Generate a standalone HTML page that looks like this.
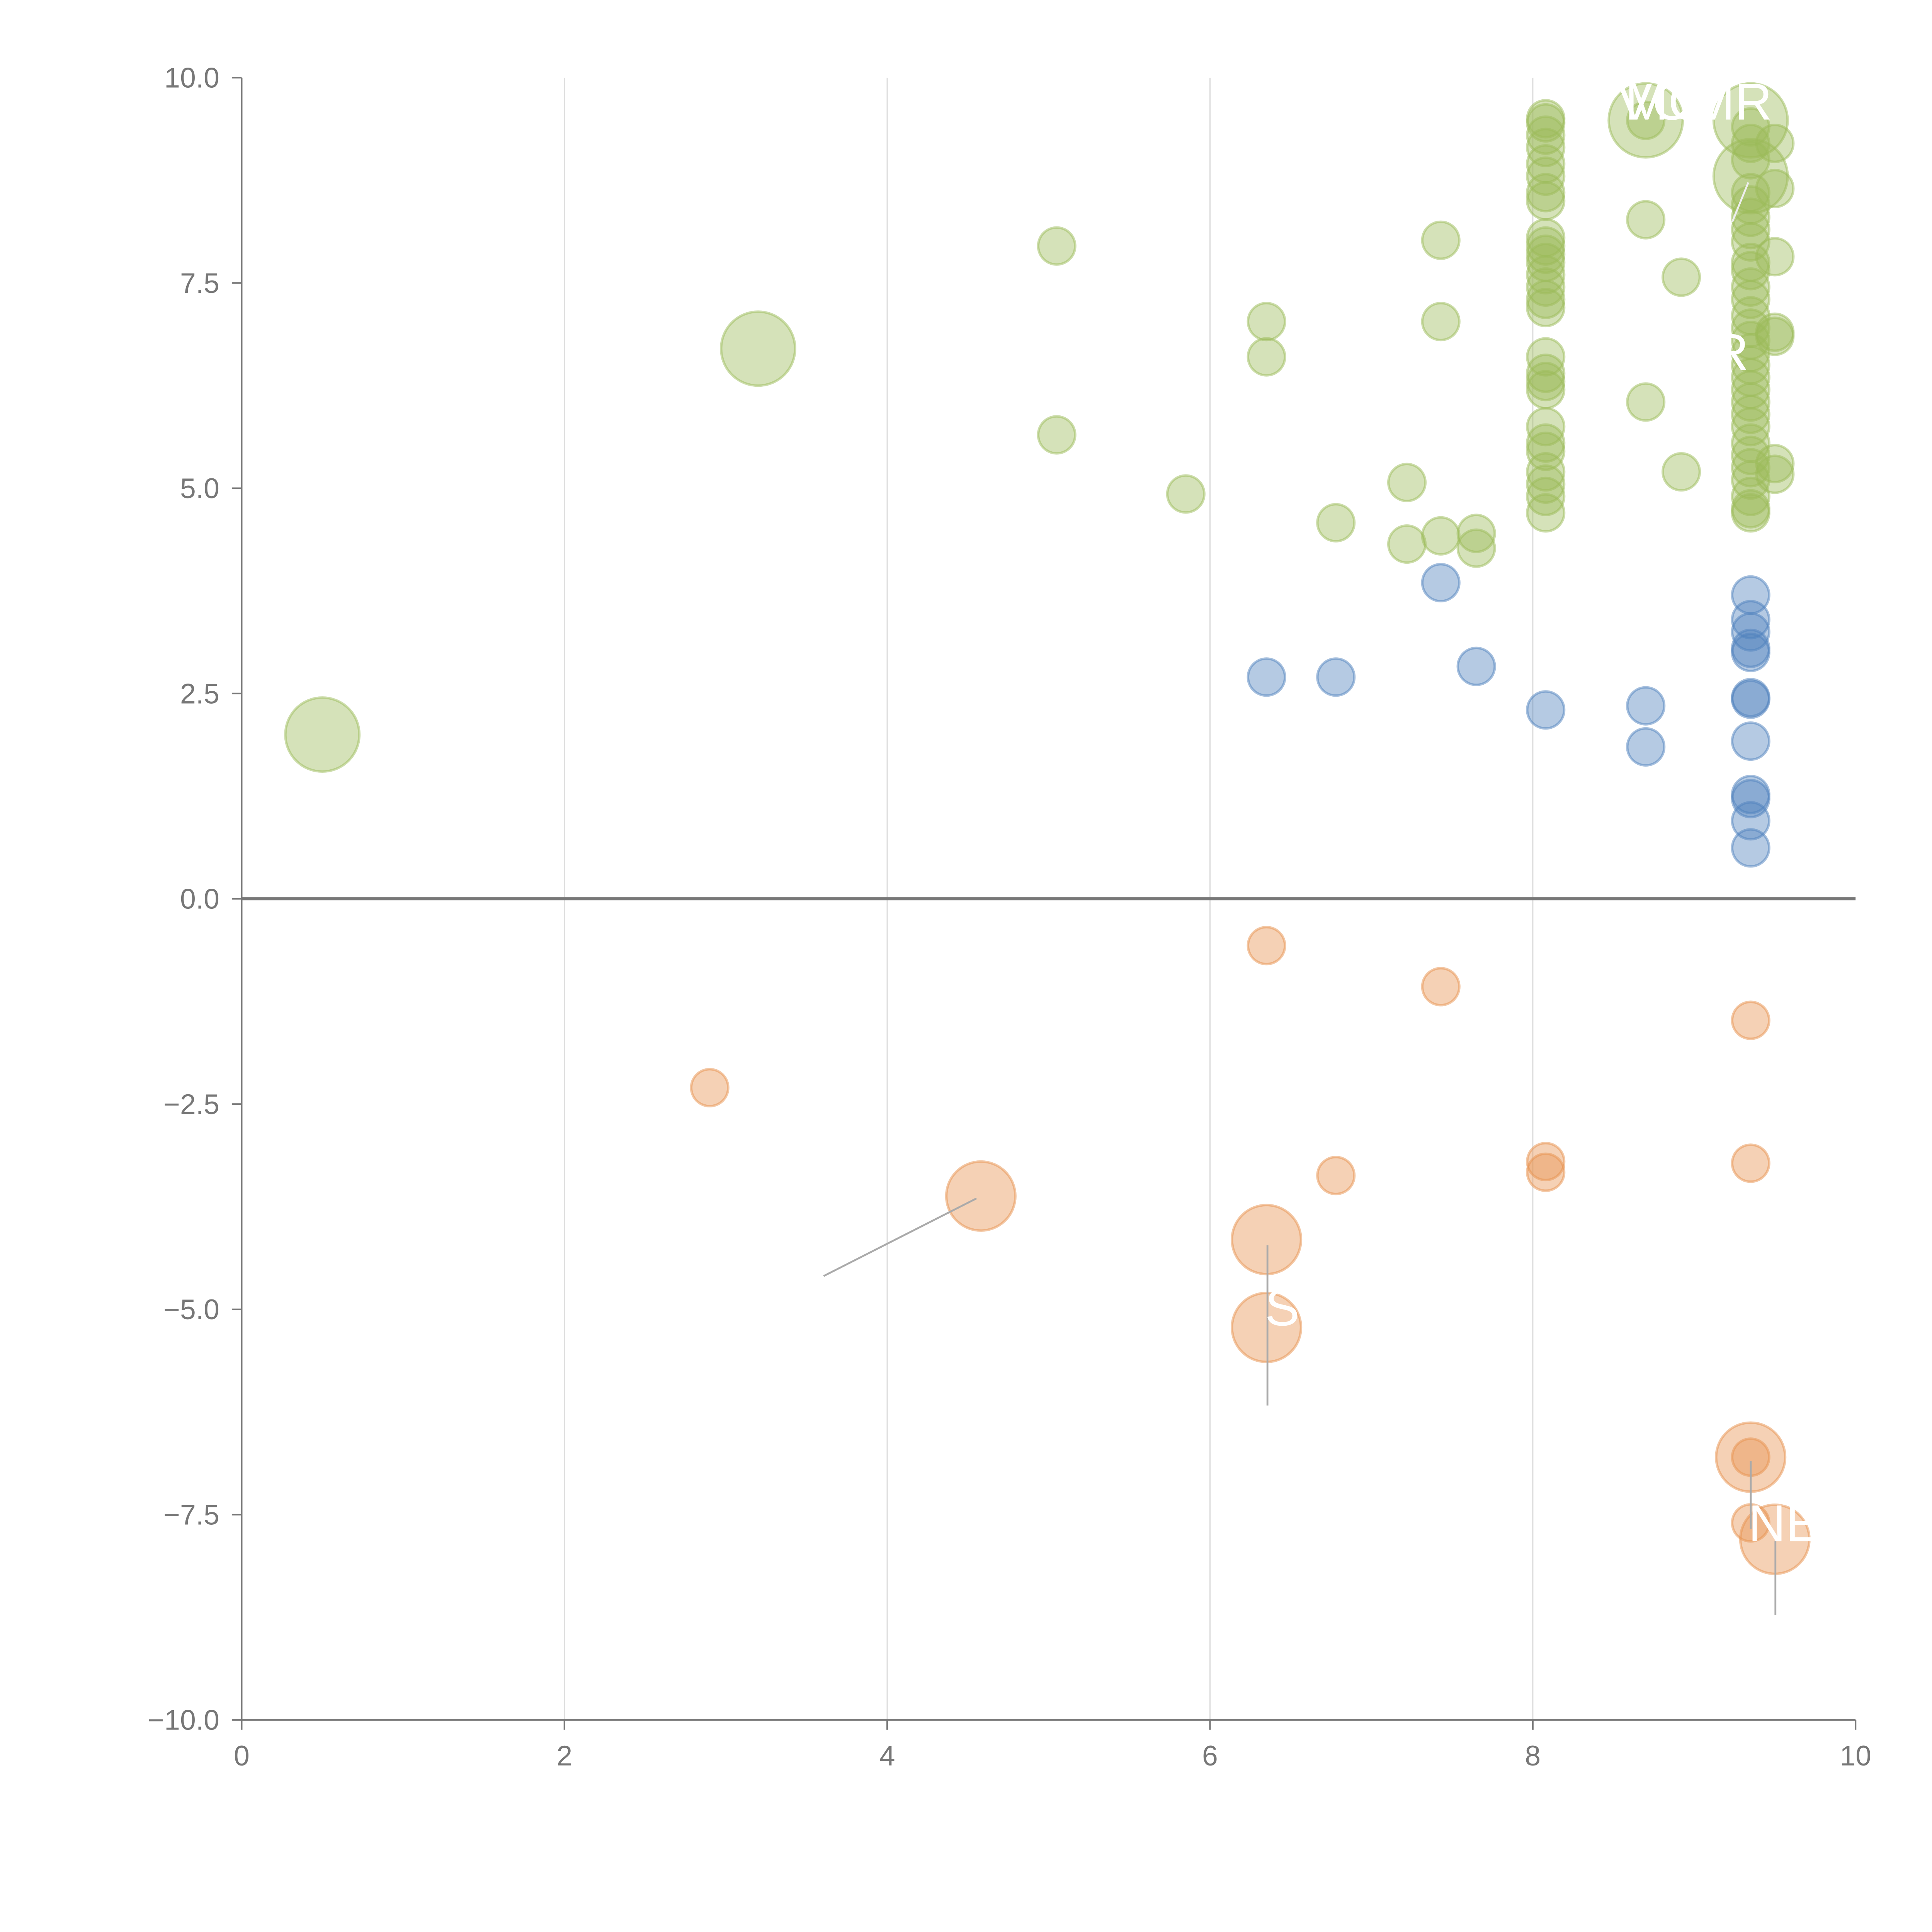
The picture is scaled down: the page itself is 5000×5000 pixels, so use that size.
<!DOCTYPE html>
<html><head><meta charset="utf-8"><style>
html,body{margin:0;padding:0;background:#fff;}
svg{display:block;}
text{font-family:"Liberation Sans",Arial,sans-serif;}
</style></head><body>
<svg id="chart" width="5000" height="5000" viewBox="0 0 1567 1567" xmlns="http://www.w3.org/2000/svg">
<g id="grid"></g>
<g id="axes"></g>
<g id="marks"></g>
<g id="ann">
<line x1="792" y1="972" x2="668" y2="1035" stroke="#aaa" stroke-width="1.5"/>
<line x1="1028" y1="1010" x2="1028" y2="1140" stroke="#aaa" stroke-width="1.5"/>
<line x1="1420" y1="1185" x2="1420" y2="1240" stroke="#aaa" stroke-width="1.5"/>
<line x1="1440" y1="1250" x2="1440" y2="1310" stroke="#aaa" stroke-width="1.5"/>
<line x1="1418" y1="148" x2="1405" y2="180" stroke="#eee" stroke-width="1.5"/>
<text x="1312" y="97" fill="#fff" font-size="42">VC</text>
<text x="1318" y="97" fill="#fff" font-size="42">MC</text>
<text x="1372" y="97" fill="#fff" font-size="42">MR</text>
<text x="1388" y="300" fill="#fff" font-size="42">R</text>
<text x="1026" y="1075" fill="#fff" font-size="42">S</text>
<text x="1418" y="1250" fill="#fff" font-size="42">NE</text>
</g>
</svg>
<script>
const greenX=[0.5,3.2,5.05,5.05,5.85,6.35,6.35,6.78,7.22,7.22,7.43,7.43,7.43,7.65,7.65,8.7,8.7,8.92,8.92,8.7,8.7,9.35,9.35,9.5,9.5,9.5,9.5,9.5,9.5,9.5];
const greenY=[2.0,6.7,7.95,5.65,4.93,7.03,6.6,4.58,5.07,4.32,8.02,7.03,4.42,4.45,4.27,8.27,6.05,7.57,5.2,9.48,9.48,9.48,8.8,9.2,8.65,7.82,6.9,6.85,5.3,5.17];
const greenR=[30,30,15,15,15,15,15,15,15,15,15,15,15,15,15,15,15,15,15,30,15,30,30,15,15,15,15,15,15,15];
const colAY=[9.5,9.45,9.3,9.15,8.95,8.8,8.6,8.5,8.05,7.95,7.85,7.75,7.6,7.45,7.3,7.2,6.6,6.4,6.3,6.2,5.75,5.55,5.45,5.2,5.05,4.9,4.7];
const colBY=[9.4,9.2,9.0,8.6,8.45,8.3,8.15,8.0,7.75,7.65,7.45,7.3,7.1,6.95,6.8,6.65,6.5,6.35,6.2,6.05,5.9,5.75,5.55,5.4,5.25,5.1,4.9,4.75,4.7];
const blueX=[6.35,6.78,7.43,7.65,8.08,8.7,8.7,9.35,9.35,9.35,9.35,9.35,9.35,9.35,9.35,9.35,9.35,9.35,9.35];
const blueY=[2.7,2.7,3.85,2.83,2.3,2.35,1.85,3.7,3.4,3.25,3.05,3.0,2.45,2.43,1.92,1.27,1.22,0.95,0.62];
const orangeX=[6.35,7.43,9.35,2.9,4.58,6.78,8.08,8.08,9.35,6.35,6.35,9.35,9.35,9.35,9.5];
const orangeY=[-0.57,-1.07,-1.48,-2.3,-3.62,-3.37,-3.2,-3.33,-3.22,-4.15,-5.22,-6.8,-6.8,-7.6,-7.8];
const orangeR=[15,15,15,15,28,15,15,15,15,28,28,28,15,15,28];
const xTicks=[0,2,4,6,8,10];
const yTicks=[10,7.5,5,2.5,0,-2.5,-5,-7.5,-10];
const NS='http://www.w3.org/2000/svg';
const sx=v=>196+v*130.9;
const sy=v=>729-v*66.6;
function mk(tag,parent,attrs){const e=document.createElementNS(NS,tag);for(const k in attrs)e.setAttribute(k,attrs[k]);parent.appendChild(e);return e;}
const grid=document.getElementById('grid'),axes=document.getElementById('axes'),marks=document.getElementById('marks');
xTicks.forEach(t=>{
  if(t>0&&t<10){const g=mk('line',grid,{x1:sx(t),x2:sx(t),y1:sy(10),y2:sy(-10),stroke:'#ddd','stroke-width':1});
  
  }
  const tk=mk('line',axes,{x1:sx(t),x2:sx(t),y1:sy(-10),y2:sy(-10)+8,stroke:'#777','stroke-width':1.3});
  
  
  const tx=mk('text',axes,{x:sx(t),y:sy(-10)+37,'text-anchor':'middle','font-size':23,fill:'#777'});
  tx.textContent=t;
  
  
});
yTicks.forEach(t=>{
  const tk=mk('line',axes,{x1:sx(0)-8,x2:sx(0),y1:sy(t),y2:sy(t),stroke:'#777','stroke-width':1.3});
  
  
  const tx=mk('text',axes,{x:sx(0)-18,y:sy(t)+8,'text-anchor':'end','font-size':23,fill:'#777'});
  tx.textContent=(t<0?'\u2212'+Math.abs(t).toFixed(1):t.toFixed(1));
  
  
});
const ya=mk('line',axes,{x1:sx(0),x2:sx(0),y1:sy(10),y2:sy(-10),stroke:'#777','stroke-width':1.3});


const xa=mk('line',axes,{x1:sx(0),x2:sx(10),y1:sy(-10),y2:sy(-10),stroke:'#777','stroke-width':1.3});


const zl=mk('line',axes,{x1:sx(0),x2:sx(10),y1:sy(0),y2:sy(0),stroke:'#777','stroke-width':2.5});


function bubble(x,y,r,fill,stroke,name){
  const c=mk('circle',marks,{cx:sx(x),cy:sy(y),r:r,fill:fill,'fill-opacity':0.42,stroke:stroke,'stroke-opacity':0.5,'stroke-width':2});
  
  
}
const G='#9bbb59',B='#4f81bd',O='#e8914e';
greenX.forEach((x,i)=>bubble(x,greenY[i],greenR[i],G,G,'green-bubble'));
colAY.forEach(y=>bubble(8.08,y,15,G,G,'green-bubble'));
colBY.forEach(y=>bubble(9.35,y,15,G,G,'green-bubble'));
blueX.forEach((x,i)=>bubble(x,blueY[i],15,B,B,'blue-bubble'));
orangeX.forEach((x,i)=>bubble(x,orangeY[i],orangeR[i],O,O,'orange-bubble'));
</script>
</body></html>
